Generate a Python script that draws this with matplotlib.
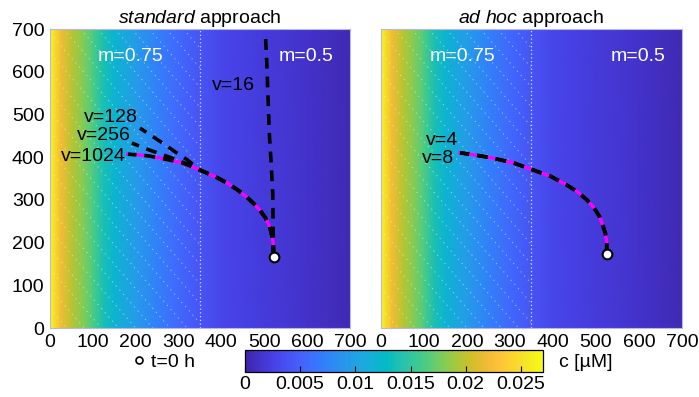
import numpy as np
import matplotlib
matplotlib.use("Agg")
import matplotlib.pyplot as plt
from matplotlib.colors import LinearSegmentedColormap
from matplotlib.lines import Line2D

plt.rcParams['font.family'] = ['Liberation Sans', 'DejaVu Sans']
plt.rcParams['font.size'] = 14
plt.rcParams['mathtext.fontset'] = 'custom'
plt.rcParams['mathtext.rm'] = 'Liberation Sans'
plt.rcParams['mathtext.it'] = 'Liberation Sans:italic'

# parula-like colormap
parula = LinearSegmentedColormap.from_list('parula', [
    (0.2422, 0.1504, 0.6603), (0.2647, 0.1978, 0.7952), (0.2783, 0.2559, 0.8991),
    (0.2810, 0.3228, 0.9579), (0.2699, 0.3892, 0.9906), (0.2206, 0.4603, 0.9973),
    (0.1786, 0.5289, 0.9682), (0.1540, 0.5902, 0.9218), (0.1248, 0.6459, 0.8883),
    (0.0689, 0.6948, 0.8394), (0.0067, 0.7312, 0.7660), (0.1408, 0.7584, 0.6842),
    (0.2161, 0.7843, 0.5923), (0.3406, 0.8008, 0.4789), (0.5044, 0.7993, 0.3480),
    (0.6720, 0.7793, 0.2227), (0.8203, 0.7498, 0.1535), (0.9393, 0.7288, 0.2100),
    (0.9970, 0.7659, 0.2199), (0.9786, 0.8386, 0.1766), (0.9597, 0.9135, 0.1423),
    (0.9769, 0.9839, 0.0805)])

# concentration profile c(x) [uM]
conc_x = [0, 10, 25, 50, 75, 100, 125, 150, 200, 250, 300, 350, 400, 450, 500, 550, 600, 650, 700]
conc_c = [0.0267, 0.025, 0.0222, 0.0198, 0.0182, 0.0163, 0.0138, 0.012, 0.0095, 0.0073,
          0.0055, 0.0041, 0.0029, 0.0025, 0.0021, 0.0017, 0.0013, 0.0009, 0.0005]
c_max = 0.027
m_boundary = 350

# reference trajectory (magenta)
ref_x = [522, 521, 519, 513, 503, 490, 475, 459, 437, 413, 390, 366, 350, 340, 311, 285, 257, 230, 210, 182]
ref_y = [168, 200, 213, 237, 258, 276, 292, 307, 324, 340, 352, 363, 370, 374, 386, 392, 398, 403, 405, 407]

# standard approach trajectories
v1024_x = ref_x
v1024_y = ref_y
v256_x = ref_x[:13] + [320, 290, 260, 226, 191]
v256_y = ref_y[:13] + [384, 396, 407, 419, 433]
v128_x = ref_x[:13] + [320, 290, 260, 230, 210]
v128_y = ref_y[:13] + [394, 414, 435, 455, 468]
v16_x = [522, 521, 520, 516, 512, 509, 506, 503]
v16_y = [168, 230, 316, 390, 456, 540, 623, 685]

# ad hoc approach trajectories
adhoc_ref_x = [525, 525, 522, 509, 495, 479, 457, 432, 395, 354, 310, 260, 207, 184]
adhoc_ref_y = [173, 200, 222, 260, 282, 300, 319, 335, 355, 370, 386, 398, 407, 410]
v4_x, v4_y = adhoc_ref_x, adhoc_ref_y
v8_x, v8_y = adhoc_ref_x, adhoc_ref_y

start_std = (522, 166)
start_adhoc = (525, 173)

ticks = [0, 100, 200, 300, 400, 500, 600, 700]
cbar_ticks = [0, 0.005, 0.01, 0.015, 0.02, 0.025]
cbar_labels = ['0', '0.005', '0.01', '0.015', '0.02', '0.025']

fig = plt.figure(figsize=(6.99, 3.97), dpi=100)
ax1 = fig.add_axes([0.0715, 0.1738, 0.429, 0.753])
ax2 = fig.add_axes([0.545, 0.1738, 0.4306, 0.753])


def background(ax):
    xs = np.array(conc_x, dtype=float)
    ys = np.array([0, 700], dtype=float)
    C = np.tile(np.array(conc_c), (2, 1))
    mesh = ax.pcolormesh(xs, ys, C, cmap=parula, vmin=0, vmax=c_max, shading='gouraud', zorder=0)
    # dotted hatching in m=0.75 region
    slope = 1.15
    for x0 in np.arange(-40, 350 + 700 / slope, 40):
        xx = np.array([x0 - 700 / slope, x0])
        yy = slope * (x0 - xx)
        ln, = ax.plot(xx, yy, color='white', lw=0.8, ls=(0, (1, 4)), alpha=0.5, zorder=1)
        ln.set_clip_path(plt.Rectangle((0, 0), m_boundary, 700, transform=ax.transData))
    ax.axvline(m_boundary, color='#dddddd', lw=0.9, ls=(0, (1, 2)), zorder=1)
    ax.set_xlim(0, 700)
    ax.set_ylim(0, 700)
    ax.set_xticks(ticks)
    ax.set_yticks(ticks)
    ax.tick_params(length=0, pad=4, labelsize=14)
    for s in ax.spines.values():
        s.set_color('#b8b8e8')
        s.set_linewidth(0.8)
    ax.text(189, 635, 'm=0.75', color='white', ha='center', va='center', fontsize=14)
    ax.text(m_boundary + 248, 635, 'm=0.5', color='white', ha='center', va='center', fontsize=14)
    return mesh


mesh = background(ax1)
background(ax2)
ax2.set_yticklabels([])

dash = dict(color='black', lw=2.6, dashes=(3, 2.2), zorder=4)

# left panel
ax1.plot(ref_x, ref_y, color='magenta', lw=2.4, zorder=3)
ax1.plot(v1024_x, v1024_y, **dash)
ax1.plot(v256_x, v256_y, **dash)
ax1.plot(v128_x, v128_y, **dash)
ax1.plot(v16_x, v16_y, **dash)
ax1.plot(*start_std, 'o', ms=7, mfc='white', mec='black', mew=1.5, zorder=6)
ax1.text(177, 401, 'v=1024', ha='right', va='center', fontsize=14)
ax1.text(189, 450, 'v=256', ha='right', va='center', fontsize=14)
ax1.text(205, 494, 'v=128', ha='right', va='center', fontsize=14)
ax1.text(429, 569, 'v=16', ha='center', va='center', fontsize=14)
ax1.set_title(r'$\mathit{standard}$ approach', fontsize=14, pad=4)

# right panel
ax2.plot(adhoc_ref_x, adhoc_ref_y, color='magenta', lw=2.4, zorder=3)
ax2.plot(v4_x, v4_y, **dash)
ax2.plot(v8_x, v8_y, **dash)
ax2.plot(*start_adhoc, 'o', ms=7, mfc='white', mec='black', mew=1.5, zorder=6)
ax2.text(179, 440, 'v=4', ha='right', va='center', fontsize=14)
ax2.text(170, 397, 'v=8', ha='right', va='center', fontsize=14)
ax2.set_title(r'$\mathit{ad\ hoc}$ approach', fontsize=14, pad=4)

# colorbar
cax = fig.add_axes([0.3505, 0.063, 0.4263, 0.0554])
cb = fig.colorbar(mesh, cax=cax, orientation='horizontal', ticks=cbar_ticks)
cb.ax.set_xticklabels(cbar_labels)
cb.ax.tick_params(direction='in', length=4, width=0.8, labelsize=14, pad=3)
cb.outline.set_linewidth(0.9)
cb.outline.set_edgecolor('black')
fig.text(0.800, 0.088, 'c [µM]', ha='left', va='center', fontsize=14)

# legend for start point
fig.legend(handles=[Line2D([], [], marker='o', ls='', mfc='white', mec='black', mew=1.2, ms=5)],
           labels=['t=0 h'], loc='center', bbox_to_anchor=(0.232, 0.087), frameon=False,
           handletextpad=0.1, handlelength=1.0, fontsize=14)

fig.savefig('out.png', dpi=100)
